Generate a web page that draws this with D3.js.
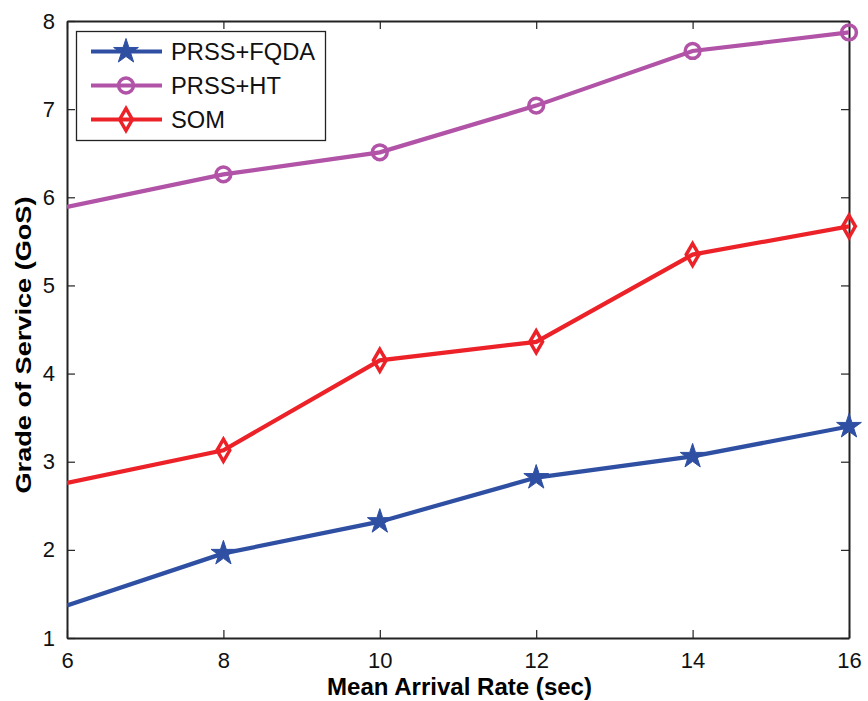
<!DOCTYPE html>
<html><head><meta charset="utf-8">
<script src="https://cdn.jsdelivr.net/npm/d3@7"></script>
<style>body{margin:0;background:#fff}svg{display:block}text{font-family:"Liberation Sans",Arial,sans-serif}</style>
</head><body>
<script>
const xs = [6, 8, 10, 12, 14, 16];
const fqda = [1.37, 1.96, 2.32, 2.82, 3.06, 3.40];
const ht = [5.89, 6.26, 6.51, 7.04, 7.66, 7.87];
const som = [2.76, 3.13, 4.15, 4.36, 5.35, 5.67];
const xTicks = [6, 8, 10, 12, 14, 16];
const yTicks = [1, 2, 3, 4, 5, 6, 7, 8];
const seriesNames = ["PRSS+FQDA", "PRSS+HT", "SOM"];
const seriesColors = ["#2f4fa3", "#b153a6", "#ec2228"];
const seriesSymbols = ["star", "circle", "diamond"];

const W = 868, H = 701;
const m = {l: 67, r: 19, t: 21, b: 63};
const svg = d3.select("body").append("svg").attr("width", W).attr("height", H);
const x = d3.scaleLinear().domain([6, 16]).range([m.l, W - m.r]);
const y = d3.scaleLinear().domain([1, 8]).range([H - m.b, m.t]);

svg.append("clipPath").attr("id", "c").append("rect")
  .attr("x", x(6)).attr("y", y(8)).attr("width", x(16) - x(6)).attr("height", y(1) - y(8));

// axes
const tl = 8;
const fmt = d3.format("d");
const gx = svg.append("g").attr("transform", `translate(0,${y(1)})`)
  .call(d3.axisBottom(x).tickValues(xTicks).tickFormat(fmt).tickSizeInner(-tl).tickSizeOuter(0).tickPadding(14));
const gxt = svg.append("g").attr("transform", `translate(0,${y(8)})`)
  .call(d3.axisTop(x).tickValues(xTicks).tickSizeInner(-tl).tickSizeOuter(0).tickFormat(""));
const gy = svg.append("g").attr("transform", `translate(${x(6)},0)`)
  .call(d3.axisLeft(y).tickValues(yTicks).tickFormat(fmt).tickSizeInner(-tl).tickSizeOuter(0).tickPadding(12));
const gyr = svg.append("g").attr("transform", `translate(${x(16)},0)`)
  .call(d3.axisRight(y).tickValues(yTicks).tickSizeInner(-tl).tickSizeOuter(0).tickFormat(""));
[gx, gxt, gy, gyr].forEach(g => {
  g.attr("font-size", null).attr("font-family", null);
  g.selectAll("path").attr("stroke", "#222").attr("stroke-width", 2);
  g.selectAll("line").attr("stroke", "#222").attr("stroke-width", 1.2);
  g.selectAll("text").style("font-size", "22px").attr("fill", "#111")
    .style("font-family", '"Liberation Sans",Arial,sans-serif');
});
gx.selectAll("text").attr("dy", "0.71em");

const data = [fqda, ht, som];
const line = d3.line().x((d, i) => x(xs[i])).y(d => y(d));
const symGen = {
  star: d3.symbol().type(d3.symbolStar).size(190),
  circle: d3.symbol().type(d3.symbolCircle).size(172),
  diamond: d3.symbol().type(d3.symbolDiamond).size(140)
};
function drawMarker(g, sym, color, cx, cy) {
  const p = g.append("path").attr("d", symGen[sym]()).attr("transform", `translate(${cx},${cy})`);
  if (sym === "star") p.attr("fill", color).attr("stroke", color).attr("stroke-width", 1);
  else p.attr("fill", "none").attr("stroke", color).attr("stroke-width", 3.5);
}
const plot = svg.append("g");
data.forEach((vals, si) => {
  plot.append("path").datum(vals).attr("d", line).attr("fill", "none")
    .attr("stroke", seriesColors[si]).attr("stroke-width", 4.2).attr("clip-path", "url(#c)");
  vals.forEach((v, i) => {
    if (i === 0) return; // first point lies at the clipped axis edge, no marker shown
    drawMarker(plot, seriesSymbols[si], seriesColors[si], x(xs[i]), y(v));
  });
});

// legend
const lg = svg.append("g");
lg.append("rect").attr("x", 76.5).attr("y", 31.5).attr("width", 249).attr("height", 109)
  .attr("fill", "#fff").attr("stroke", "#222").attr("stroke-width", 1.3);
seriesNames.forEach((n, i) => {
  const cy = 51.5 + i * 34;
  lg.append("line").attr("x1", 91).attr("x2", 162).attr("y1", cy).attr("y2", cy)
    .attr("stroke", seriesColors[i]).attr("stroke-width", 4.2);
  drawMarker(lg, seriesSymbols[i], seriesColors[i], 126, cy);
  lg.append("text").attr("x", 171).attr("y", cy).attr("dy", "0.36em")
    .style("font-size", "23.7px").attr("fill", "#111").text(n);
});

svg.append("text").attr("x", 459.5).attr("y", 695)
  .attr("text-anchor", "middle").style("font-size", "23px").attr("font-weight", "bold")
  .attr("textLength", 265).attr("lengthAdjust", "spacingAndGlyphs")
  .text("Mean Arrival Rate (sec)");
svg.append("text").attr("transform", `translate(31,${345}) rotate(-90)`)
  .attr("text-anchor", "middle").style("font-size", "22px").attr("font-weight", "bold")
  .attr("textLength", 297).attr("lengthAdjust", "spacingAndGlyphs")
  .text("Grade of Service (GoS)");
</script>
</body></html>
